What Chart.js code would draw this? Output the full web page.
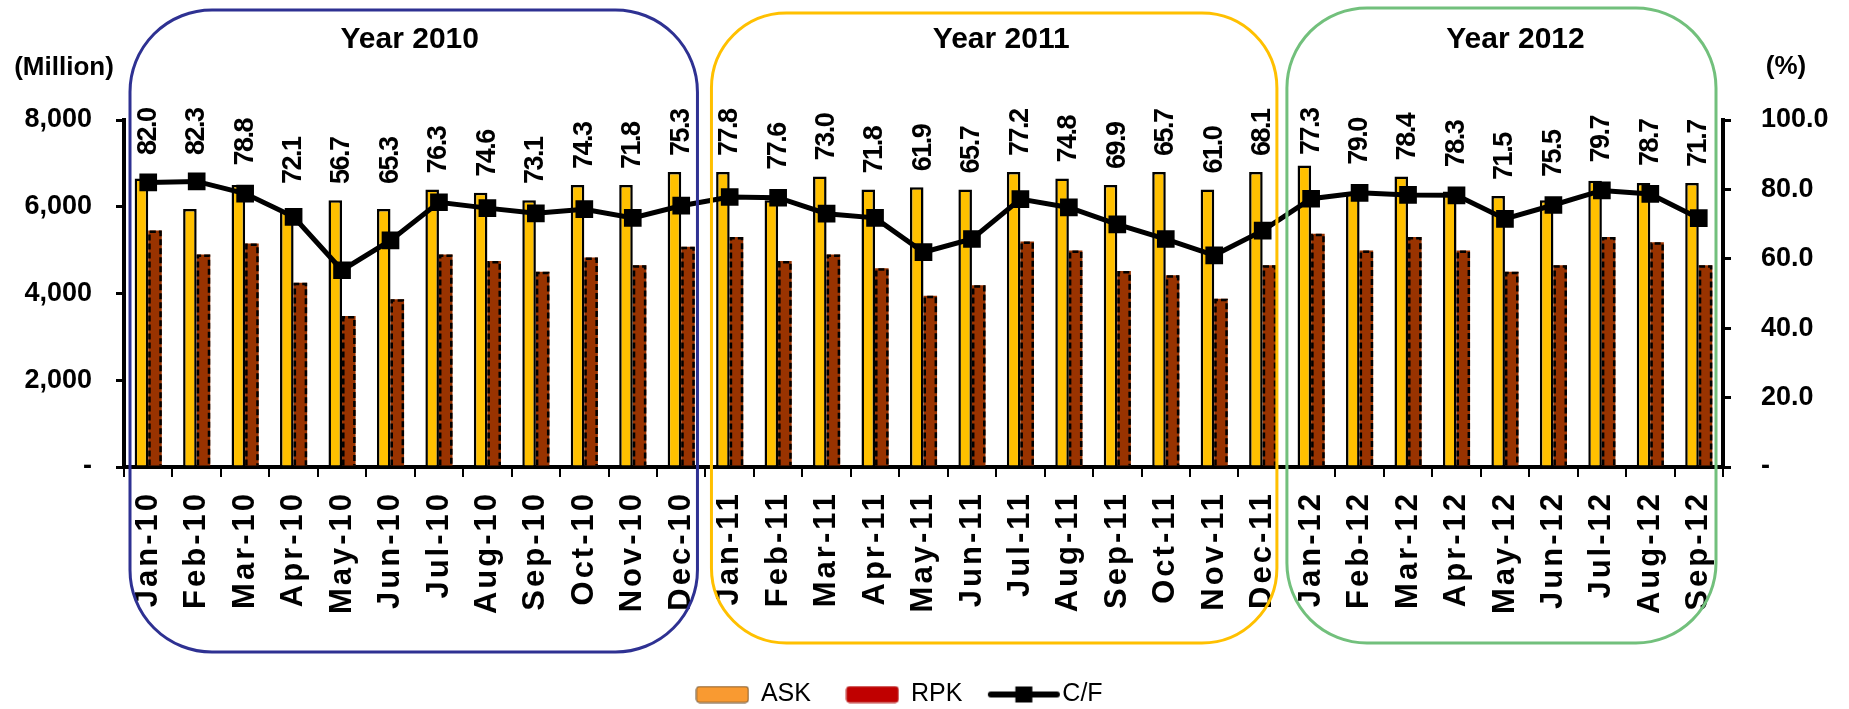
<!DOCTYPE html>
<html>
<head>
<meta charset="utf-8">
<script src="https://cdn.jsdelivr.net/npm/chart.js@4.4.1/dist/chart.umd.min.js"></script>
<style>
html,body{margin:0;padding:0;background:#fff;}
#wrap{width:1849px;height:709px;position:relative;}
</style>
</head>
<body>
<div id="wrap"><canvas id="c" width="1849" height="709"></canvas></div>
<script>
// ---------------- DATA ----------------
const categories = [
  'Jan-10','Feb-10','Mar-10','Apr-10','May-10','Jun-10','Jul-10','Aug-10','Sep-10','Oct-10','Nov-10','Dec-10',
  'Jan-11','Feb-11','Mar-11','Apr-11','May-11','Jun-11','Jul-11','Aug-11','Sep-11','Oct-11','Nov-11','Dec-11',
  'Jan-12','Feb-12','Mar-12','Apr-12','May-12','Jun-12','Jul-12','Aug-12','Sep-12'
];
const askValues = [
  6650, 5950, 6500, 5900, 6150, 5950, 6400, 6320, 6150, 6500, 6500, 6800,
  6800, 6150, 6700, 6400, 6450, 6400, 6800, 6650, 6500, 6800, 6400, 6800,
  6950, 6300, 6700, 6350, 6250, 6150, 6600, 6550, 6550
];
const rpkValues = [
  5450, 4900, 5150, 4250, 3480, 3870, 4900, 4750, 4500, 4830, 4650, 5075,
  5300, 4750, 4900, 4580, 3950, 4190, 5200, 4990, 4520, 4420, 3880, 4650,
  5380, 4990, 5300, 4990, 4500, 4650, 5300, 5180, 4650
];
const cfValues = [
  82.0, 82.3, 78.8, 72.1, 56.7, 65.3, 76.3, 74.6, 73.1, 74.3, 71.8, 75.3,
  77.8, 77.6, 73.0, 71.8, 61.9, 65.7, 77.2, 74.8, 69.9, 65.7, 61.0, 68.1,
  77.3, 79.0, 78.4, 78.3, 71.5, 75.5, 79.7, 78.7, 71.7
];
const seriesNames = ['ASK', 'RPK', 'C/F'];
const leftAxisTitle = '(Million)';
const rightAxisTitle = '(%)';
const yearLabels = ['Year 2010', 'Year 2011', 'Year 2012'];
const yearFirst = ['Jan-10', 'Jan-11', 'Jan-12'];
const yearLast = ['Dec-10', 'Dec-11', 'Sep-12'];

// ---------------- STYLE / LAYOUT ----------------
const FONT = "'Liberation Sans', Arial, Helvetica, sans-serif";
const W = 1849, H = 709;
const PLOT_TOP = 120, PLOT_BOTTOM = 467, PLOT_LEFT = 124, PLOT_RIGHT = 1723;
const PAD_RIGHT = 50, PAD_BOTTOM = -8;
const LABEL_GAP = 16, LABEL_MIN_Y = 155, LABEL_MAX_Y = 184;
const boxStyles = [
  {color:'#2E3192', dl:6, dr:-8,  top:10, bottom:652, r:82, tdx:-4},
  {color:'#FFC000', dl:6, dr:-10, top:13, bottom:643, r:75, tdx:7},
  {color:'#72C07C', dl:0, dr:-7,  top:8,  bottom:643, r:80, tdx:14}
];

Chart.defaults.font.family = FONT;

function makeBoxImg(fill, stroke) {
  const c = document.createElement('canvas'); c.width = 54; c.height = 18;
  const g = c.getContext('2d');
  g.beginPath(); g.roundRect(1, 1, 52, 16, 3);
  g.fillStyle = fill; g.fill();
  g.lineWidth = 1; g.strokeStyle = stroke; g.stroke();
  return c;
}
function makeLineImg() {
  const c = document.createElement('canvas'); c.width = 74; c.height = 18;
  const g = c.getContext('2d');
  g.strokeStyle = '#000'; g.lineWidth = 6; g.lineCap = 'round';
  g.beginPath(); g.moveTo(4, 9); g.lineTo(70, 9); g.stroke();
  g.fillStyle = '#000'; g.fillRect(28.5, 1, 17, 16);
  return c;
}
const legendImgs = [makeBoxImg('#F99A31', '#6a5030'), makeBoxImg('#C00000', '#c04040'), makeLineImg()];

// letter-spaced category labels, unclipped right-axis labels
const scalePatches = {
  id: 'scalePatches',
  beforeDraw(chart) {
    const s = chart.scales.x;
    if (s && !s._lsPatched) {
      const orig = s.drawLabels;
      s.drawLabels = function(area) {
        const c = this.ctx; c.save(); c.letterSpacing = '3px';
        orig.call(this, area); c.restore();
      };
      s._lsPatched = true;
    }
    const r = chart.scales.y1;
    if (r && !r._clipPatched) {
      r._computeLabelArea = function() { return undefined; };
      r._clipPatched = true;
    }
  }
};

// dashed outline for RPK bars
const rpkDash = {
  id: 'rpkDash',
  afterDatasetDraw(chart, args) {
    if (args.index !== 1) return;
    const ctx = chart.ctx;
    ctx.save();
    ctx.strokeStyle = '#000'; ctx.lineWidth = 2.5; ctx.setLineDash([6, 3]);
    args.meta.data.forEach(b => {
      const l = b.x - b.width / 2 + 1.25, r = b.x + b.width / 2 - 1.25;
      ctx.beginPath();
      ctx.moveTo(l, b.base); ctx.lineTo(l, b.y + 1.25); ctx.lineTo(r, b.y + 1.25); ctx.lineTo(r, b.base);
      ctx.stroke();
    });
    ctx.restore();
  }
};

// C/F value labels: placed above whichever is higher, the ASK bar or the C/F marker
const cfLabels = {
  id: 'cfLabels',
  afterDatasetsDraw(chart) {
    const ctx = chart.ctx;
    const yScale = chart.scales.y, y1Scale = chart.scales.y1, xScale = chart.scales.x;
    ctx.save();
    ctx.font = 'bold 27px ' + FONT; ctx.fillStyle = '#000';
    ctx.letterSpacing = '-1.5px';
    ctx.textAlign = 'left'; ctx.textBaseline = 'middle';
    cfValues.forEach((v, i) => {
      const px = xScale.getPixelForValue(i);
      const barTop = yScale.getPixelForValue(askValues[i]);
      const markTop = y1Scale.getPixelForValue(v) - 12;
      const top = Math.min(barTop, markTop);
      const yb = Math.max(LABEL_MIN_Y, Math.min(top - LABEL_GAP, LABEL_MAX_Y));
      ctx.save(); ctx.translate(px, yb); ctx.rotate(-Math.PI / 2);
      ctx.fillText(v.toFixed(1), 0, 0);
      ctx.restore();
    });
    ctx.restore();
  }
};

// year boxes, titles, axis titles
const annotations = {
  id: 'annotations',
  afterDraw(chart) {
    const ctx = chart.ctx, xs = chart.scales.x;
    const half = (xs.getPixelForValue(1) - xs.getPixelForValue(0)) / 2;
    ctx.save();
    yearLabels.forEach((lab, k) => {
      const st = boxStyles[k];
      const l = xs.getPixelForValue(categories.indexOf(yearFirst[k])) - half + st.dl;
      const r = xs.getPixelForValue(categories.indexOf(yearLast[k])) + half + st.dr;
      ctx.beginPath(); ctx.roundRect(l, st.top, r - l, st.bottom - st.top, st.r);
      ctx.lineWidth = 3; ctx.strokeStyle = st.color; ctx.stroke();
      ctx.font = 'bold 30px ' + FONT; ctx.fillStyle = '#000';
      ctx.textAlign = 'center'; ctx.textBaseline = 'middle';
      ctx.fillText(lab, (l + r) / 2 + st.tdx, 40);
    });
    ctx.font = 'bold 26px ' + FONT; ctx.fillStyle = '#000';
    ctx.textAlign = 'center'; ctx.textBaseline = 'middle';
    ctx.fillText(leftAxisTitle, 64, 68);
    ctx.fillText(rightAxisTitle, 1786, 67);
    ctx.restore();
  }
};

new Chart(document.getElementById('c'), {
  data: {
    labels: categories,
    datasets: [
      {type:'bar', label:seriesNames[0], data:askValues, yAxisID:'y', backgroundColor:'#FFC000',
       borderColor:'#000', borderWidth:2.5, borderSkipped:'bottom', order:1,
       barPercentage:1, categoryPercentage:0.56},
      {type:'bar', label:seriesNames[1], data:rpkValues, yAxisID:'y', backgroundColor:'#993300',
       borderWidth:0, order:1, barPercentage:1, categoryPercentage:0.56},
      {type:'line', label:seriesNames[2], data:cfValues, yAxisID:'y1', borderColor:'#000', borderWidth:5,
       pointStyle:'rect', pointRadius:12.5, pointHoverRadius:12.5, pointBackgroundColor:'#000',
       pointBorderColor:'#000', pointBorderWidth:0, tension:0, order:0}
    ]
  },
  options: {
    responsive:false, animation:false, devicePixelRatio:1, events:[],
    layout:{padding:{top:PLOT_TOP, right:PAD_RIGHT, bottom:PAD_BOTTOM, left:0}},
    plugins:{
      tooltip:{enabled:false},
      legend:{
        position:'bottom',
        labels:{
          usePointStyle:true, pointStyleWidth:52, boxHeight:16, padding:35.5,
          color:'#000', font:{size:25, family:FONT},
          generateLabels(){
            return seriesNames.map((t, i) => ({text:t, pointStyle:legendImgs[i], datasetIndex:i,
              hidden:false, lineWidth:0, fillStyle:'#000', strokeStyle:'#000', fontColor:'#000'}));
          }
        }
      }
    },
    scales:{
      x:{
        type:'category', offset:true,
        grid:{display:true, drawOnChartArea:false, drawTicks:true, tickLength:10, color:'#000', lineWidth:2, offset:true},
        border:{display:true, color:'#000', width:4},
        ticks:{autoSkip:false, maxRotation:90, minRotation:90, padding:14, color:'#000',
               font:{size:31, weight:'bold', family:FONT}},
        afterFit(s){ const lh = s.chart.legend ? s.chart.legend.height : 0; s.height = H - PAD_BOTTOM - PLOT_BOTTOM - lh; }
      },
      y:{
        position:'left', min:0, max:8000,
        grid:{drawOnChartArea:false, tickLength:8, color:'#000', lineWidth:3},
        border:{display:true, color:'#000', width:4},
        ticks:{stepSize:2000, padding:24, color:'#000', font:{size:27, weight:'bold', family:FONT},
               callback:v => v === 0 ? '-' : v.toLocaleString('en-US')},
        afterFit(s){ s.width = PLOT_LEFT; }
      },
      y1:{
        position:'right', min:0, max:100,
        grid:{drawOnChartArea:false, tickLength:8, color:'#000', lineWidth:3},
        border:{display:true, color:'#000', width:4},
        ticks:{stepSize:20, padding:30, color:'#000', font:{size:27, weight:'bold', family:FONT},
               callback:v => v === 0 ? '-' : v.toFixed(1)},
        afterFit(s){ s.width = W - PAD_RIGHT - PLOT_RIGHT; }
      }
    }
  },
  plugins:[scalePatches, rpkDash, cfLabels, annotations]
});
</script>
</body>
</html>
